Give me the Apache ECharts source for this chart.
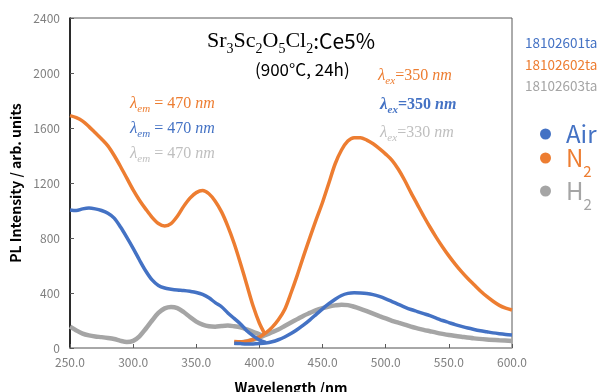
<!DOCTYPE html>
<html><head><meta charset="utf-8">
<script src="https://cdn.jsdelivr.net/npm/echarts@6/dist/echarts.min.js"></script>
<style>html,body{margin:0;padding:0;background:#fff}#c{width:603px;height:392px}</style>
</head><body><div id="c"></div>
<script>
// ---- data ----
const airExWl = [250,255,260,265,270,275,280,285,290,295,300,305,310,315,320,325,330,335,340,345,350,355,360,365,370,375,380,385,390,395,400,405];
const airExVal = [1004,1000,1012,1018,1012,1000,980,945,880,805,725,640,560,495,455,436,428,422,418,412,404,390,365,330,300,255,215,175,125,88,58,40];
const airEmWl = [380,385,390,395,400,405,410,415,420,425,430,435,440,445,450,455,460,465,470,475,480,485,490,495,500,505,510,515,520,525,530,535,540,545,550,555,560,565,570,575,580,585,590,595,600];
const airEmVal = [35,32,30,30,32,36,45,60,80,105,135,168,205,245,285,322,355,382,397,402,400,396,388,375,358,338,318,298,280,265,250,235,218,200,185,170,157,145,135,126,118,110,104,99,95];

const n2ExWl = [250,255,260,265,270,275,280,285,290,295,300,305,310,315,320,325,330,335,340,345,350,355,360,365,370,375,380,385,390,395,400,404];
const n2ExVal = [1690,1675,1650,1610,1565,1520,1470,1400,1320,1235,1150,1075,1010,950,905,887,905,958,1030,1090,1130,1145,1122,1068,990,885,760,615,460,305,180,107];
const n2EmWl = [380,385,390,395,400,405,410,415,420,425,430,435,440,445,450,455,460,465,470,475,480,485,490,495,500,505,510,515,520,525,530,535,540,545,550,555,560,565,570,575,580,585,590,595,600];
const n2EmVal = [48,45,50,62,80,110,150,205,280,400,530,670,805,935,1060,1200,1340,1440,1505,1530,1530,1512,1485,1450,1410,1365,1300,1220,1130,1045,960,880,805,735,670,610,555,505,460,415,375,340,310,290,276];

const h2ExWl = [250,255,260,265,270,275,280,285,290,295,300,305,310,315,320,325,330,335,340,345,350,355,360,365,370,375,380,385,390,395,400,404];
const h2ExVal = [155,128,105,92,84,79,73,65,52,44,52,85,140,200,255,288,298,290,262,225,192,170,158,155,160,163,158,150,135,118,100,88];
const h2EmWl = [380,385,390,395,400,405,410,415,420,425,430,435,440,445,450,455,460,465,470,475,480,485,490,495,500,505,510,515,520,525,530,535,540,545,550,560,570,580,590,600];
const h2EmVal = [36,40,48,60,75,95,115,135,160,185,210,235,255,275,290,302,310,315,312,300,285,268,250,232,215,198,184,170,155,143,132,122,112,103,95,82,70,62,56,51];

const xTicks = {min:250, max:600, interval:50};
const yTicks = {min:0, max:2400, interval:400};
const seriesNames = ['Air','N2','H2'];
const fileIds = ['18102601ta','18102602ta','18102603ta'];

// ---- styles ----
const C = {Air:'#4472C4', N2:'#ED7D31', H2:'#A5A5A5'};
const zip = (a,b)=>a.map((x,i)=>[x,b[i]]);
function line(name, wl, val, w){
  return {name, type:'line', data:zip(wl,val), smooth:0.3, symbol:'none',
    lineStyle:{color:C[name], width:w}, itemStyle:{color:C[name]}, z: name==='H2'?2:3};
}
const series = [
  line('N2', n2ExWl, n2ExVal, 3.5), line('N2', n2EmWl, n2EmVal, 3.5),
  line('Air', airExWl, airExVal, 3.5), line('Air', airEmWl, airEmVal, 3.5),
  line('H2', h2ExWl, h2ExVal, 4.5), line('H2', h2EmWl, h2EmVal, 4.5)
];

const serif = '"Liberation Serif","DejaVu Serif",serif';
const sans = '"Noto Sans CJK JP","Noto Sans",sans-serif';
function lam(sub, rest, color, x, y, bold){
  const fw = bold ? 'bold':'normal';
  const base = {fontFamily:serif, fill:color, color:color, fontWeight:fw, verticalAlign:'bottom'};
  return {type:'text', left:x, top:y, style:{
    text:'{l|λ}{s|'+sub+'}{r|'+rest+'}{i|nm}',
    rich:{
      l:Object.assign({}, base, {fontStyle:'italic', fontSize:17, lineHeight:20}),
      s:Object.assign({}, base, {fontStyle:'italic', fontSize:11, lineHeight:14, padding:[0,0,-3,0]}),
      r:Object.assign({}, base, {fontSize:16, lineHeight:20}),
      i:Object.assign({}, base, {fontStyle:'italic', fontSize:16, lineHeight:20})
    }}};
}
const graphics = [
  {type:'text', left:207, top:30, style:{
    text:'{a|Sr}{s|3}{a|Sc}{s|2}{a|O}{s|5}{a|Cl}{s|2}{b|:Ce5%}',
    rich:{
      a:{fontFamily:serif, fontSize:22, color:'#000', lineHeight:26, verticalAlign:'bottom'},
      s:{fontFamily:serif, fontSize:14, color:'#000', lineHeight:16, verticalAlign:'bottom', padding:[0,0,-4,0]},
      b:{fontFamily:sans, fontSize:21, color:'#000', lineHeight:26, verticalAlign:'bottom'}
    }}},
  {type:'text', left:255, top:61, style:{text:'(900°C, 24h)', font:'17px '+sans, fill:'#000'}},
  lam('em',' = 470 ', '#ED7D31', 130, 95),
  lam('em',' = 470 ', '#4472C4', 130, 120),
  lam('em',' = 470 ', '#BFBFBF', 130, 145),
  lam('ex','=350 ', '#ED7D31', 378, 67),
  lam('ex','=350 ', '#4472C4', 380, 96, true),
  lam('ex','=330 ', '#BFBFBF', 380, 124),
  {type:'text', left:525, top:36, style:{text:fileIds[0], font:'13.5px '+sans, fill:'#4472C4'}},
  {type:'text', left:525, top:58, style:{text:fileIds[1], font:'13.5px '+sans, fill:'#ED7D31'}},
  {type:'text', left:525, top:79, style:{text:fileIds[2], font:'13.5px '+sans, fill:'#A5A5A5'}}
];

const chart = echarts.init(document.getElementById('c'), null, {renderer:'canvas'});
chart.setOption({
  animation:false,
  grid:{left:70, right:91, top:18, bottom:44, show:true, borderColor:'#595959', borderWidth:1,
    containLabel:false, outerBoundsMode:'none'},
  legend:{
    orient:'vertical', left:535, top:117, itemGap:0, icon:'circle', itemWidth:11, itemHeight:11,
    data:seriesNames,
    textStyle:{fontFamily:sans, fontSize:24,
      rich:{
        Air:{fontFamily:sans, fontSize:24, color:C.Air, lineHeight:28, padding:[0,0,0,10]},
        N2:{fontFamily:sans, fontSize:24, color:C.N2, lineHeight:28, padding:[0,0,0,10]},
        N2s:{fontFamily:sans, fontSize:15, color:C.N2, lineHeight:15, verticalAlign:'bottom', padding:[0,0,-7,0]},
        H2:{fontFamily:sans, fontSize:24, color:C.H2, lineHeight:28, padding:[0,0,0,10]},
        H2s:{fontFamily:sans, fontSize:15, color:C.H2, lineHeight:15, verticalAlign:'bottom', padding:[0,0,-7,0]}
      }},
    formatter: n => n==='Air' ? '{Air|Air}' : (n==='N2' ? '{N2|N}{N2s|2}' : '{H2|H}{H2s|2}')
  },
  xAxis:{type:'value', min:xTicks.min, max:xTicks.max, interval:xTicks.interval,
    name:'Wavelength /nm', nameLocation:'middle', nameGap:33,
    nameTextStyle:{fontFamily:sans, fontSize:14, fontWeight:'bold', color:'#000'},
    axisLine:{show:true, lineStyle:{color:'#A6A6A6', width:1.5}},
    axisTick:{show:true, inside:true, length:4, lineStyle:{color:'#595959'}},
    axisLabel:{color:'#7F7F7F', fontFamily:sans, fontSize:12, margin:8, formatter:v=>v.toFixed(1)},
    splitLine:{show:false}},
  yAxis:{type:'value', min:yTicks.min, max:yTicks.max, interval:yTicks.interval,
    name:'PL Intensity / arb. units', nameLocation:'middle', nameGap:46,
    nameTextStyle:{fontFamily:sans, fontSize:14, fontWeight:'bold', color:'#000'},
    axisLine:{show:true, lineStyle:{color:'#000', width:1.5}},
    axisTick:{show:true, inside:true, length:4, lineStyle:{color:'#595959'}},
    axisLabel:{color:'#7F7F7F', fontFamily:sans, fontSize:12, margin:10, formatter:v=>String(v)},
    splitLine:{show:false}},
  series: series,
  graphic: graphics
});
</script></body></html>
